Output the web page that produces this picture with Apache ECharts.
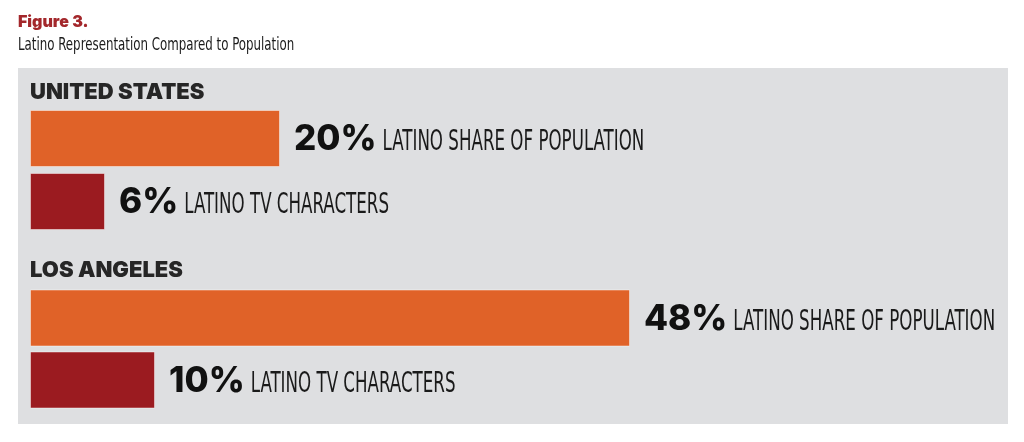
<!DOCTYPE html>
<html>
<head>
<meta charset="utf-8">
<script src="https://cdn.jsdelivr.net/npm/echarts@6/dist/echarts.min.js"></script>
<style>
html, body { margin: 0; background: #ffffff; }
#chart { width: 1024px; height: 442px; }
</style>
</head>
<body>
<div id="chart"></div>
<script>
// data
const regions = ["UNITED STATES", "LOS ANGELES"];
const measures = ["LATINO SHARE OF POPULATION", "LATINO TV CHARACTERS"];
const us_values = [20, 6];
const la_values = [48, 10];
const region_values = [us_values, la_values];

const bar_colors = ["#e06228", "#9b1b20"];
const HEAVY = "Inter, 'Noto Sans', sans-serif";
const COND = "'Liberation Sans Narrow', 'DejaVu Sans Condensed', 'Liberation Sans', sans-serif";
const COND_SCALE = 0.64;

// grid rows: [top, height] per region
const grid_rows = [[107, 126], [287, 124]];

const chart = echarts.init(document.getElementById("chart"), null, { renderer: "canvas" });

const grids = grid_rows.map(([top, height]) => ({ left: 30, width: 750, top, height }));
const x_axes = grids.map((_, i) => ({
    type: "value", gridIndex: i, min: 0, max: 60, show: false,
}));
const y_axes = grids.map((_, i) => ({
    type: "category", gridIndex: i, inverse: true, data: measures, show: false,
}));
const series = region_values.map((vals, i) => ({
    type: "bar",
    xAxisIndex: i,
    yAxisIndex: i,
    barWidth: 57,
    silent: true,
    animation: false,
    data: vals.map((v, k) => ({
        value: v,
        itemStyle: { color: bar_colors[k], borderColor: "rgba(255,255,255,0.45)", borderWidth: 1 },
    })),
}));

chart.setOption({
    animation: false,
    grid: grids,
    xAxis: x_axes,
    yAxis: y_axes,
    series,
});

// canvas measure for placing the description after the percent
const measure_ctx = document.createElement("canvas").getContext("2d");
function text_width(txt, weight, size, family) {
    measure_ctx.font = `${weight} ${size}px ${family}`;
    return measure_ctx.measureText(txt).width;
}

const graphic = [
    // gray panel
    { type: "rect", z: -10, shape: { x: 18, y: 68, width: 990, height: 356 }, style: { fill: "#dedfe1" } },
    { type: "text", x: 18, y: 22, style: { text: "Figure 3.", fill: "#a3272b", fontFamily: HEAVY, fontWeight: 900, fontSize: 16, verticalAlign: "middle" } },
    { type: "text", x: 18, y: 45, scaleX: 0.73, style: { text: "Latino Representation Compared to Population", fill: "#1a1a1a", fontFamily: COND, fontSize: 18, verticalAlign: "middle" } },
];

regions.forEach((name, i) => {
    graphic.push({
        type: "text", x: 30, y: grid_rows[i][0] - (i ? 17 : 15),
        style: { text: name, fill: "#262626", fontFamily: HEAVY, fontWeight: 900, fontSize: 22, verticalAlign: "middle" },
    });
    region_values[i].forEach((v, k) => {
        const [px, py] = chart.convertToPixel({ xAxisIndex: i, yAxisIndex: i }, [v, k]);
        const pct = `${v}%`;
        const pct_x = px + 14;
        const pct_w = text_width(pct, 800, 35, HEAVY);
        graphic.push({
            type: "text", x: pct_x, y: py + 1,
            style: { text: pct, fill: "#111111", fontFamily: HEAVY, fontWeight: 800, fontSize: 35, verticalAlign: "middle" },
        });
        graphic.push({
            type: "text", x: pct_x + pct_w + 6, y: py + 4, scaleX: COND_SCALE,
            style: { text: measures[k], fill: "#1a1a1a", fontFamily: COND, fontSize: 29, verticalAlign: "middle" },
        });
    });
});

chart.setOption({ graphic });
</script>
</body>
</html>
